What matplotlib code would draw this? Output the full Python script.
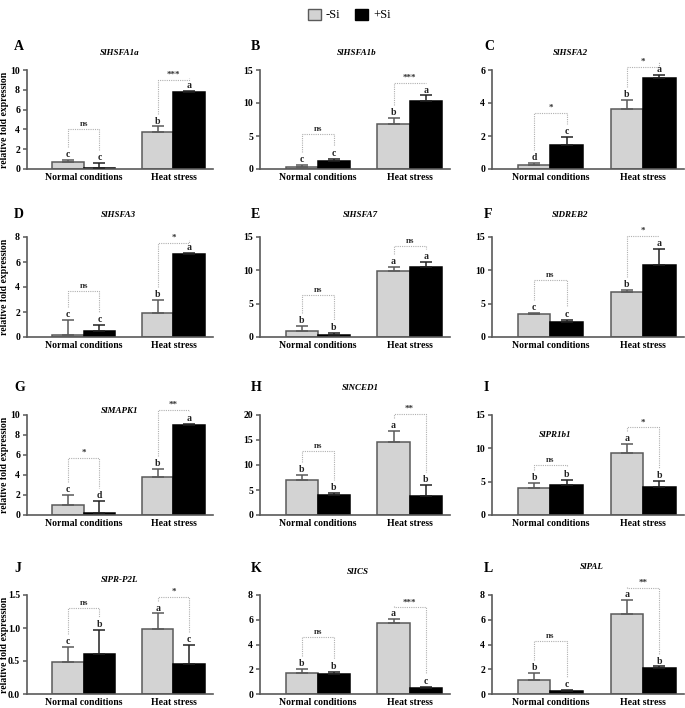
import matplotlib
matplotlib.use("Agg")
import matplotlib.pyplot as plt
from matplotlib.patches import Patch

plt.rcParams["font.family"] = ["Liberation Serif", "DejaVu Serif"]

# ---- data ----
panels = ["A", "B", "C", "D", "E", "F", "G", "H", "I", "J", "K", "L"]
genes = ["SlHSFA1a", "SlHSFA1b", "SlHSFA2", "SlHSFA3", "SlHSFA7", "SlDREB2",
         "SlMAPK1", "SlNCED1", "SlPR1b1", "SlPR-P2L", "SlICS", "SlPAL"]
groups = ["Normal conditions", "Heat stress"]

# [normal, heat]
minus_si = [[0.75, 3.75], [0.25, 6.75], [0.24, 3.62], [0.19, 1.93],
            [0.9, 9.95], [3.4, 6.8], [1.03, 3.8], [7.0, 14.67],
            [4.0, 9.25], [0.48, 0.98], [1.69, 5.77], [1.15, 6.44]]
minus_err = [[0.2, 0.55], [0.4, 1.0], [0.12, 0.54], [1.15, 1.05],
             [0.75, 0.5], [0.2, 0.2], [0.94, 0.83], [0.93, 2.07],
             [0.75, 1.4], [0.23, 0.24], [0.35, 0.27], [0.54, 1.13]]
plus_si = [[0.15, 7.75], [1.15, 10.25], [1.48, 5.5], [0.48, 6.63],
           [0.35, 10.5], [2.25, 10.85], [0.23, 9.0], [4.0, 3.8],
           [4.45, 4.15], [0.6, 0.45], [1.61, 0.51], [0.24, 2.09]]
plus_err = [[0.5, 0.15], [0.35, 0.9], [0.46, 0.22], [0.5, 0.06],
            [0.25, 0.75], [0.3, 2.4], [1.17, 0.13], [0.33, 2.2],
            [0.75, 0.9], [0.37, 0.29], [0.14, 0.08], [0.08, 0.14]]

letters_minus = [["c", "b"], ["c", "b"], ["d", "b"], ["c", "b"], ["b", "a"], ["c", "b"],
                 ["c", "b"], ["b", "a"], ["b", "a"], ["c", "a"], ["b", "a"], ["b", "a"]]
letters_plus = [["c", "a"], ["c", "a"], ["c", "a"], ["c", "a"], ["b", "a"], ["c", "a"],
                ["d", "a"], ["b", "b"], ["b", "b"], ["b", "c"], ["b", "c"], ["c", "b"]]

sig_labels = [["ns", "***"], ["ns", "***"], ["*", "*"], ["ns", "*"], ["ns", "ns"], ["ns", "*"],
              ["*", "**"], ["ns", "**"], ["ns", "*"], ["ns", "*"], ["ns", "***"], ["ns", "**"]]
sig_heights = [[4.0, 9.0], [5.3, 13.0], [3.4, 6.2], [3.7, 7.5], [6.25, 13.6], [8.6, 15.15],
               [5.7, 10.5], [12.8, 20.2], [7.5, 13.15], [1.31, 1.475], [4.6, 7.0], [4.3, 8.6]]

y_max = [10, 15, 6, 8, 15, 15, 10, 20, 15, 1.5, 8, 8]
y_step = [2, 5, 2, 2, 5, 5, 2, 5, 5, 0.5, 2, 2]

# ---- layout in pixels ----
W, H = 685, 708
col_lr = [(27, 213), (260, 450), (492, 684)]
row_tb = [(70, 169), (237, 337), (415, 515), (595, 694)]
letter_x = [14, 251, 484]
letter_y = [47, 215, 388, 568]
title_pos = {0: (120, 53), 1: (357, 53), 2: (570, 53),
             3: (118, 215), 4: (360, 215), 5: (570, 215),
             6: (120, 411), 7: (360, 388), 8: (555, 435),
             9: (120, 580), 10: (358, 572), 11: (592, 567)}

GREY = "#d3d3d3"
EDGE = "#5a5a5a"
DOT = "#b0b0b0"

fig = plt.figure(figsize=(W / 100, H / 100), dpi=100)

x = [0, 1]
bw = 0.35

for i in range(12):
    r, c = divmod(i, 3)
    l, rt = col_lr[c]
    t, b = row_tb[r]
    ax = fig.add_axes([l / W, 1 - b / H, (rt - l) / W, (b - t) / H])

    xm = [v - bw / 2 for v in x]
    xp = [v + bw / 2 for v in x]
    ax.bar(xm, minus_si[i], bw, color=GREY, edgecolor=EDGE, linewidth=1.1, zorder=2)
    ax.bar(xp, plus_si[i], bw, color="black", edgecolor="black", linewidth=1.1, zorder=2)
    ax.errorbar(xm, minus_si[i], yerr=[[0, 0], minus_err[i]], fmt="none",
                ecolor=EDGE, elinewidth=1.1, capsize=4.5, capthick=1.1, zorder=3)
    ax.errorbar(xp, plus_si[i], yerr=[[0, 0], plus_err[i]], fmt="none",
                ecolor="#222222", elinewidth=1.1, capsize=4.5, capthick=1.1, zorder=3)

    ym = y_max[i]
    gap = 0.03 * ym
    lh = 0.10 * ym
    for g in range(2):
        top_m = minus_si[i][g] + minus_err[i][g]
        top_p = plus_si[i][g] + plus_err[i][g]
        ax.text(xm[g], top_m + gap * 0.3, letters_minus[i][g], ha="center", va="bottom",
                fontsize=7, fontweight="bold", color="#222222")
        ax.text(xp[g], top_p + gap * 0.3, letters_plus[i][g], ha="center", va="bottom",
                fontsize=7, fontweight="bold", color="#222222")
        hy = sig_heights[i][g]
        ax.plot([xm[g], xm[g], xp[g], xp[g]],
                [top_m + lh + gap, hy, hy, top_p + lh + gap],
                ls=(0, (1, 1)), color=DOT, lw=0.8, clip_on=False, zorder=1)
        ax.text(x[g], hy + 0.01 * ym, sig_labels[i][g], ha="center", va="bottom",
                fontsize=6.5, fontweight="bold", color="#333333")

    ax.set_xlim(-0.63, 1.44)
    ax.set_ylim(0, ym)
    ticks = [k * y_step[i] for k in range(int(round(ym / y_step[i])) + 1)]
    ax.set_yticks(ticks)
    if ym < 2:
        ax.set_yticklabels([f"{v:.1f}" for v in ticks])
    else:
        ax.set_yticklabels([f"{v:g}" for v in ticks])
    ax.set_xticks(x)
    ax.set_xticklabels(groups)
    ax.tick_params(axis="x", length=0, pad=3, labelsize=7)
    ax.tick_params(axis="y", length=3, width=1.1, color=EDGE, pad=2, labelsize=7)
    for lab in ax.get_xticklabels() + ax.get_yticklabels():
        lab.set_fontweight("bold")
    for s in ["top", "right"]:
        ax.spines[s].set_visible(False)
    for s in ["left", "bottom"]:
        ax.spines[s].set_color(EDGE)
        ax.spines[s].set_linewidth(1.2)

    if c == 0:
        ax.set_ylabel("relative fold expression", fontsize=7, fontweight="bold")
        ax.yaxis.set_label_coords((9 - l) / (rt - l), 0.5)

    fig.text(letter_x[c] / W, 1 - letter_y[r] / H, panels[i], fontsize=10,
             fontweight="bold", ha="left", va="center")
    tx, ty = title_pos[i]
    fig.text(tx / W, 1 - ty / H, genes[i], fontsize=6.5, fontweight="bold",
             fontstyle="italic", ha="center", va="center")

handles = [Patch(facecolor=GREY, edgecolor=EDGE, label="-Si"),
           Patch(facecolor="black", edgecolor="black", label="+Si")]
fig.legend(handles=handles, loc="center", bbox_to_anchor=(0.51, 1 - 15 / H), ncol=2,
           frameon=False, fontsize=9, handlelength=1.0, handleheight=1.0,
           handletextpad=0.4, columnspacing=1.2)

fig.savefig("out.png", dpi=100)
